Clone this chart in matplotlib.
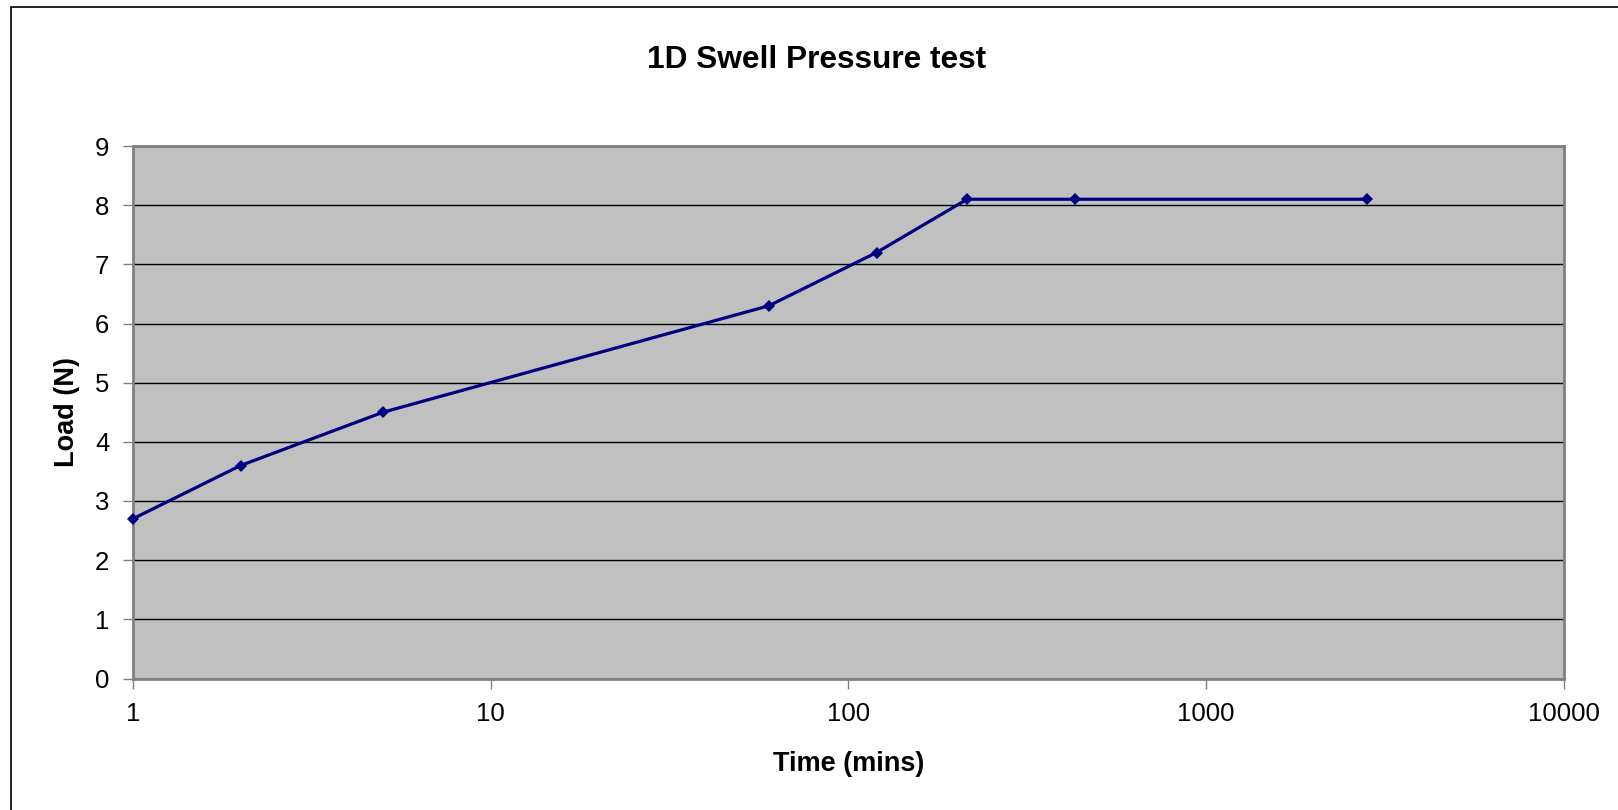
import matplotlib
matplotlib.use("Agg")
import matplotlib.pyplot as plt
from matplotlib.patches import Rectangle
from matplotlib.ticker import FixedLocator, NullLocator, FixedFormatter

plt.rcParams['font.family'] = ['Liberation Sans', 'DejaVu Sans']

time_mins = [1, 2, 5, 60, 120, 215, 430, 2820]
load_n = [2.7, 3.6, 4.5, 6.3, 7.2, 8.1, 8.1, 8.1]
x_ticks = [1, 10, 100, 1000, 10000]
x_tick_labels = ["1", "10", "100", "1000", "10000"]
y_ticks = list(range(0, 10))

W, H = 1618, 810
fig = plt.figure(figsize=(W / 100, H / 100), dpi=100)
fig.patch.set_facecolor('white')

# outer chart-area border (left & top visible)
fig.add_artist(Rectangle((11 / W, -0.1), 1.2, 1 - 7 / H + 0.1, transform=fig.transFigure,
                         fill=False, edgecolor='black', linewidth=1.2))

left, right, top, bottom = 133, 1563.5, 146, 678.5
ax = fig.add_axes([left / W, 1 - bottom / H, (right - left) / W, (bottom - top) / H])
ax.set_facecolor('#C0C0C0')

ax.set_xscale('log')
ax.set_xlim(1, 10000)
ax.set_ylim(0, 9)
ax.xaxis.set_major_locator(FixedLocator(x_ticks))
ax.xaxis.set_major_formatter(FixedFormatter(x_tick_labels))
ax.xaxis.set_minor_locator(NullLocator())
ax.set_yticks(y_ticks)

ax.grid(axis='y', color='black', linewidth=1.0)
ax.set_axisbelow(True)

for s in ax.spines.values():
    s.set_color('#808080')
    s.set_linewidth(2)

ax.tick_params(axis='both', direction='out', length=7, width=1, color='#808080',
               labelsize=18.5, labelcolor='black')
ax.tick_params(axis='x', pad=10)
ax.tick_params(axis='y', pad=10)

ax.plot(time_mins, load_n, color='#000080', linewidth=2.3, marker='D', markersize=6.5,
        markeredgewidth=0, clip_on=False, zorder=5)

ax.set_xlabel('Time (mins)', fontsize=19.5, fontweight='bold', labelpad=18)
ax.set_ylabel('Load (N)', fontsize=19.5, fontweight='bold', labelpad=10.5)

fig.text(817 / W, 1 - 60 / H, '1D Swell Pressure test', ha='center', va='center',
         fontsize=22.8, fontweight='bold')

fig.savefig('out.png', dpi=100)
